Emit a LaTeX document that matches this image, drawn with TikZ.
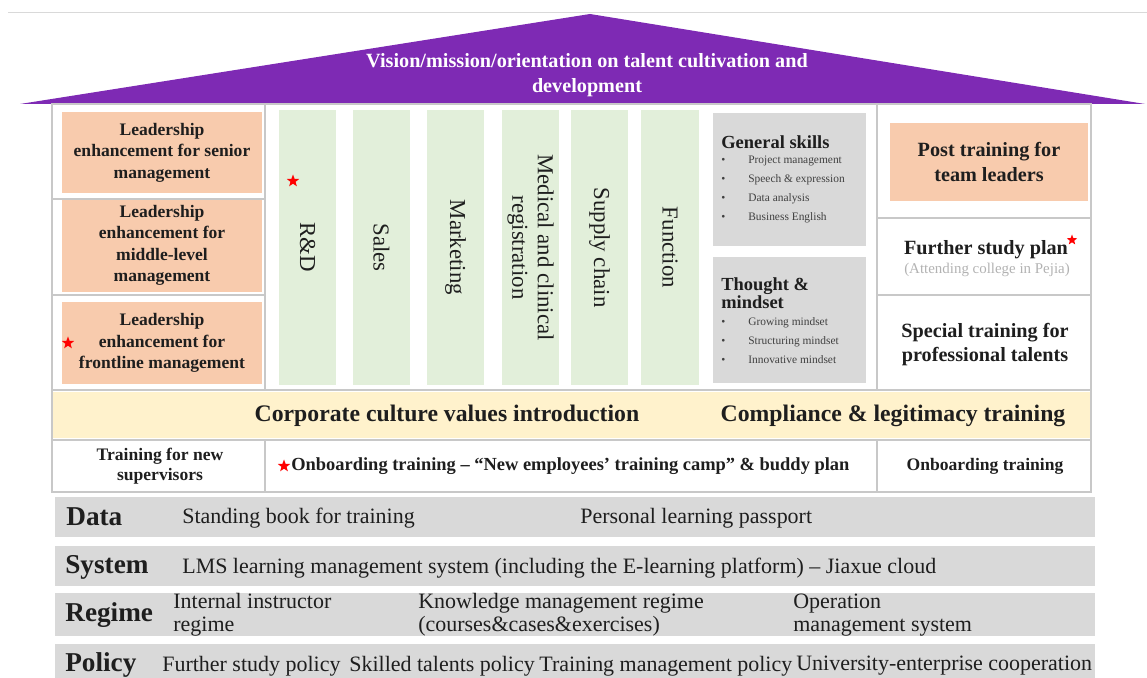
\documentclass[tikz,border=0pt]{standalone}
\usepackage{fontspec}
\setmainfont{Liberation Serif}
\usepackage{xcolor}
\usetikzlibrary{shapes.geometric,positioning}
\definecolor{roofpurple}{RGB}{126,42,180}
\definecolor{peach}{RGB}{248,203,173}
\definecolor{mint}{RGB}{226,239,218}
\definecolor{skillgray}{RGB}{217,217,217}
\definecolor{cream}{RGB}{255,242,204}
\definecolor{framegray}{RGB}{200,200,200}
\definecolor{inkdark}{RGB}{30,30,30}
\tikzstyle{rooftext} = [align=center, text=white, font=\bfseries\fontsize{11.5}{14.2}\selectfont]
\tikzstyle{leadbox} = [rectangle, fill=peach, minimum width=4cm, align=center, text=inkdark, font=\bfseries\fontsize{10}{12.2}\selectfont]
\tikzstyle{funcbar} = [rectangle, fill=mint, rotate=-90, minimum width=5.5cm, minimum height=1.16cm, align=center, text=inkdark, font=\fontsize{13}{14.5}\selectfont]
\tikzstyle{skillbox} = [rectangle, fill=skillgray, minimum width=3.06cm]
\tikzstyle{skillhead} = [anchor=west, align=left, inner sep=0pt, text=inkdark, font=\bfseries\fontsize{10.5}{10.5}\selectfont]
\tikzstyle{skilllist} = [anchor=west, align=left, inner sep=0pt, text=inkdark!85, font=\fontsize{6.5}{10.8}\selectfont]
\tikzstyle{righttext} = [align=center, text=inkdark, font=\bfseries\fontsize{11.5}{13.8}\selectfont]
\tikzstyle{bandtext} = [text=inkdark, font=\bfseries\fontsize{13.5}{16}\selectfont]
\tikzstyle{rowtext} = [align=center, text=inkdark, font=\bfseries\fontsize{10}{11.4}\selectfont]
\tikzstyle{basebar} = [rectangle, fill=skillgray, minimum width=20.8cm]
\tikzstyle{baselabel} = [anchor=west, inner sep=0pt, text=inkdark, font=\bfseries\fontsize{15.5}{18}\selectfont]
\tikzstyle{baseitem} = [anchor=west, align=left, inner sep=0pt, text=inkdark, font=\fontsize{12.5}{13}\selectfont]
\tikzstyle{redstar} = [star, star points=5, star point ratio=2.4, fill=red, inner sep=0pt, minimum size=0.26cm]
\tikzstyle{frame} = [framegray, line width=0.6pt]

\newcommand{\skillitem}[1]{\textbullet\hspace{4.6mm}#1}

\begin{document}
\begin{tikzpicture}[x=0.02cm, y=-0.02cm]
    \useasboundingbox (0,0) rectangle (1147,678);

    % Roof
    \draw[gray!30] (8,12) -- (1147,12);
    \fill[roofpurple] (20,104) -- (590,14) -- (1145,104) -- cycle;
    \node[rooftext] (vision) at (587,75.5) {Vision/mission/orientation on talent cultivation and\\development};

    % Leadership boxes
    \node[leadbox, minimum height=1.62cm] (senior) at (162,152.5) {Leadership\\enhancement for senior\\management};
    \node[leadbox, minimum height=1.66cm] (middle) at (162,245.5) {Leadership\\enhancement for\\middle-level\\management};
    \node[leadbox, minimum height=1.64cm] (frontline) at (162,343) {Leadership\\enhancement for\\frontline management};
    \node[redstar] (starfront) at (68,343) {};

    % Functions
    \node[funcbar] (rd) at (307.5,247.5) {R\&D};
    \node[funcbar] (sales) at (381.5,247.5) {Sales};
    \node[funcbar] (marketing) at (455.5,247.5) {Marketing};
    \node[funcbar] (medical) at (530.5,247.5) {Medical and clinical\\registration};
    \node[funcbar] (supply) at (599.5,247.5) {Supply chain};
    \node[funcbar] (function) at (670,247.5) {Function};
    \node[redstar] (starrd) at (293,181) {};

    % Skills
    \node[skillbox, minimum height=2.66cm] (genskill) at (789.5,179.5) {};
    \node[skillhead] (genhead) at (721,142) {General skills};
    \node[skilllist] (genlist) at (721,189) {\skillitem{Project management}\\\skillitem{Speech \& expression}\\\skillitem{Data analysis}\\\skillitem{Business English}};
    \node[skillbox, minimum height=2.52cm] (thought) at (789.5,320) {};
    \node[skillhead] (thoughthead) at (721,293) {Thought \&\\mindset};
    \node[skilllist] (thoughtlist) at (721,341) {\skillitem{Growing mindset}\\\skillitem{Structuring mindset}\\\skillitem{Innovative mindset}};

    % Right column
    \node[rectangle, fill=peach, minimum width=3.96cm, minimum height=1.56cm, righttext] (posttrain) at (989,162) {Post training for\\team leaders};
    \node[righttext] (further) at (986,250) {Further study plan};
    \node[redstar, minimum size=0.22cm] (starfurther) at (1072,240) {};
    \node[text=gray!60, font=\fontsize{8.5}{10}\selectfont] (attend) at (987,270) {(Attending college in Pejia)};
    \node[righttext] (special) at (985,344.5) {Special training for\\professional talents};

    % Culture band
    \node[rectangle, fill=cream, minimum width=20.74cm, minimum height=0.92cm] (band) at (571.5,415) {};
    \node[bandtext] (culture) at (447,416) {Corporate culture values introduction};
    \node[bandtext] (compliance) at (893,416) {Compliance \& legitimacy training};

    % Onboarding row
    \node[rowtext] (newsup) at (160,466) {Training for new\\supervisors};
    \node[redstar] (staronboard) at (284,466) {};
    \node[anchor=west, inner sep=0pt, text=inkdark, font=\bfseries\fontsize{10.5}{13}\selectfont] (onboard) at (291,466) {Onboarding training -- “New employees’ training camp” \& buddy plan};
    \node[rowtext] (onboardright) at (985,466) {Onboarding training};

    % Frame
    \draw[frame] (52,104) rectangle (1091,492);
    \draw[frame] (265,104) -- (265,390) (265,440) -- (265,492);
    \draw[frame] (877,104) -- (877,390) (877,440) -- (877,492);
    \draw[frame] (52,199) -- (265,199) (52,295) -- (265,295);
    \draw[frame] (877,218) -- (1091,218) (877,295) -- (1091,295);
    \draw[frame] (52,390) -- (1091,390) (52,440) -- (1091,440);

    % Foundation bars
    \node[basebar, minimum height=0.8cm] (databar) at (575,517) {};
    \node[baselabel] (datalbl) at (66,517) {Data};
    \node[baseitem] (standing) at (182,518) {Standing book for training};
    \node[baseitem] (passport) at (580,518) {Personal learning passport};

    \node[basebar, minimum height=0.82cm] (systembar) at (575,566) {};
    \node[baselabel] (systemlbl) at (65,567) {System};
    \node[baseitem] (lms) at (182,568) {LMS learning management system (including the E-learning platform) -- Jiaxue cloud};

    \node[basebar, minimum height=0.86cm] (regimebar) at (575,614.5) {};
    \node[baselabel] (regimelbl) at (65,615) {Regime};
    \node[baseitem] (instructor) at (173,615) {Internal instructor\\regime};
    \node[baseitem] (knowledge) at (418,615) {Knowledge management regime\\(courses\&cases\&exercises)};
    \node[baseitem] (operation) at (793,615) {Operation\\management system};

    \node[basebar, minimum height=0.68cm] (policybar) at (575,661) {};
    \node[baselabel] (policylbl) at (65,665) {Policy};
    \node[baseitem] (studypol) at (162,666) {Further study policy};
    \node[baseitem] (skilledpol) at (349,666) {Skilled talents policy};
    \node[baseitem] (trainpol) at (539,666) {Training management policy};
    \node[baseitem] (univpol) at (796,666) {University-enterprise cooperation};
\end{tikzpicture}
\end{document}
